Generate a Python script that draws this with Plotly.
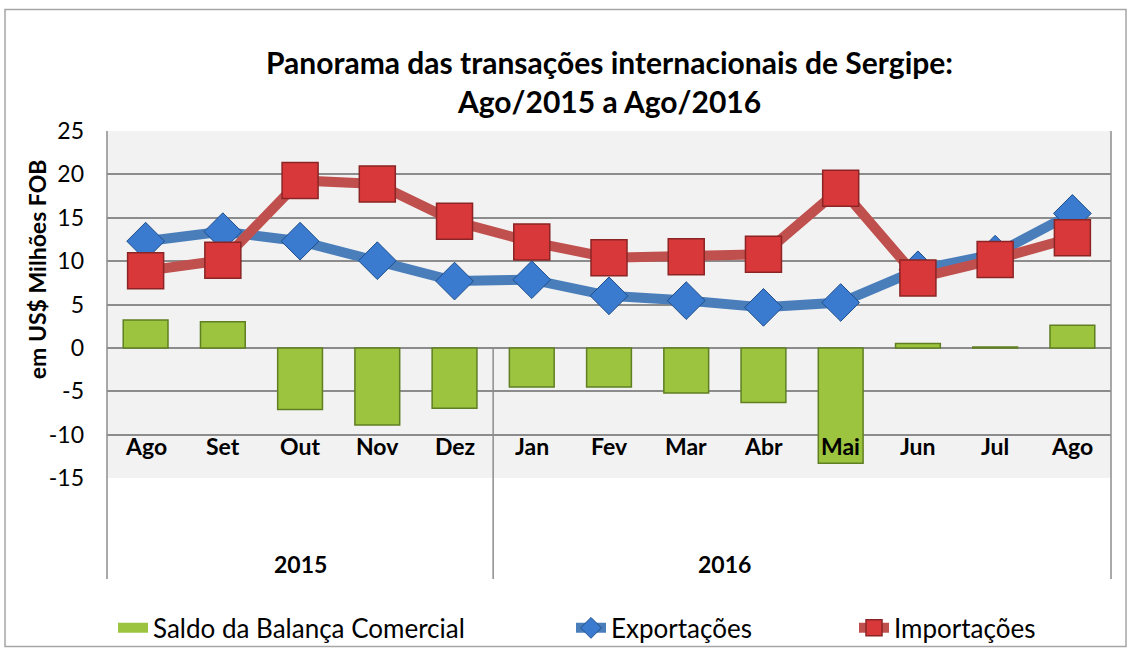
import plotly.graph_objects as go

months = ["Ago", "Set", "Out", "Nov", "Dez", "Jan", "Fev", "Mar", "Abr", "Mai", "Jun", "Jul", "Ago"]
years = ["2015", "2016"]
saldo = [3.2, 3.0, -7.1, -8.9, -6.95, -4.5, -4.5, -5.2, -6.3, -13.3, 0.5, 0.1, 2.6]
exportacoes = [12.3, 13.4, 12.3, 10.05, 7.7, 7.86, 6.0, 5.45, 4.67, 5.23, 9.0, 10.8, 15.5]
importacoes = [8.9, 10.1, 19.3, 18.9, 14.6, 12.2, 10.4, 10.5, 10.8, 18.4, 8.05, 10.2, 12.7]
yticks = [-15, -10, -5, 0, 5, 10, 15, 20, 25]
ytick_text = ["-15", "-10", "-5", "0", "5", "10", "15", "20", "25"]

FONT = "Lato"
W, H = 1132, 663
L, R, T, B = 107, 21, 131, 178
pw = W - L - R
ph = H - T - B

def px_x(p):
    return (p - L) / pw

def px_y(p):
    return (H - B - p) / ph

xs = list(range(len(months)))
GREEN = "#9CC43F"
GREEN_EDGE = "#5F7F22"

fig = go.Figure()
fig.add_trace(go.Bar(
    x=xs, y=saldo, name="Saldo da Balança Comercial", width=0.58,
    marker=dict(color=GREEN, line=dict(color=GREEN_EDGE, width=1.5)),
    showlegend=False,
))
# legend proxy for the bar series (wide bar-like symbol)
fig.add_trace(go.Scatter(
    x=[None], y=[None], name="Saldo da Balança Comercial", mode="lines",
    line=dict(color=GREEN, width=16), legend="legend",
))
fig.add_trace(go.Scatter(
    x=xs, y=exportacoes, name="Exportações", mode="lines+markers",
    line=dict(color="#4A7EBB", width=10),
    marker=dict(symbol="diamond", size=29, color="#3A7BD0", line=dict(color="#1F4E8A", width=1)),
    legend="legend2",
))
fig.add_trace(go.Scatter(
    x=xs, y=importacoes, name="Importações", mode="lines+markers",
    line=dict(color="#C0504D", width=10),
    marker=dict(symbol="square", size=36, color="#D8383A", line=dict(color="#8B2525", width=1.5)),
    legend="legend3",
))

annotations = []
for i, m in enumerate(months):
    annotations.append(dict(x=i, y=-11.3, xref="x", yref="y", text="<b>%s</b>" % m,
                            showarrow=False, yanchor="middle",
                            font=dict(family=FONT, size=23, color="black")))
annotations.append(dict(x=2, y=px_y(573), xref="x", yref="paper", text="<b>%s</b>" % years[0],
                        showarrow=False, yanchor="middle", font=dict(family=FONT, size=23, color="black")))
annotations.append(dict(x=7.5, y=px_y(573), xref="x", yref="paper", text="<b>%s</b>" % years[1],
                        showarrow=False, yanchor="middle", font=dict(family=FONT, size=23, color="black")))
annotations.append(dict(x=0.5, y=px_y(80), xref="paper", yref="paper",
                        text="<b>Panorama das transações internacionais de Sergipe:<br>Ago/2015 a Ago/2016</b>",
                        showarrow=False, font=dict(family=FONT, size=30, color="black"),
                        xanchor="center", yanchor="middle"))
annotations.append(dict(x=px_x(37), y=px_y(272), xref="paper", yref="paper",
                        text="<b>em US$ Milhões FOB</b>", textangle=-90,
                        showarrow=False, font=dict(family=FONT, size=23, color="black"),
                        xanchor="center", yanchor="middle"))

gray = "#8C8C8C"
shapes = [
    dict(type="rect", xref="paper", yref="paper", x0=px_x(5), x1=px_x(1126), y0=px_y(657), y1=px_y(7),
         line=dict(color="#A6A6A6", width=1.5), layer="below"),
    dict(type="line", xref="paper", yref="paper", x0=0, x1=0, y0=1, y1=px_y(588), line=dict(color=gray, width=1.5)),
    dict(type="line", xref="paper", yref="paper", x0=1, x1=1, y0=1, y1=px_y(588), line=dict(color=gray, width=1.5)),
    dict(type="line", xref="x", yref="y", x0=4.5, x1=4.5, y0=0, y1=-15, line=dict(color=gray, width=1.5), layer="below"),
    dict(type="line", xref="x", yref="paper", x0=4.5, x1=4.5, y0=0, y1=px_y(588), line=dict(color=gray, width=1.5)),
]

legend_font = dict(family=FONT, size=26, color="black")
fig.update_layout(
    width=W, height=H,
    margin=dict(l=L, r=R, t=T, b=B),
    paper_bgcolor="white",
    plot_bgcolor="#F2F2F2",
    font=dict(family=FONT, size=20, color="black"),
    showlegend=True,
    annotations=annotations,
    shapes=shapes,
    legend=dict(x=px_x(113), y=px_y(638), xanchor="left", yanchor="middle", orientation="h",
                font=legend_font, bgcolor="rgba(0,0,0,0)"),
    legend2=dict(x=px_x(571), y=px_y(638), xanchor="left", yanchor="middle", orientation="h",
                 font=legend_font, bgcolor="rgba(0,0,0,0)"),
    legend3=dict(x=px_x(854), y=px_y(638), xanchor="left", yanchor="middle", orientation="h",
                 font=legend_font, bgcolor="rgba(0,0,0,0)"),
)
fig.update_xaxes(range=[-0.5, len(months) - 0.5], showticklabels=False, showgrid=False,
                 zeroline=False, showline=False, ticks="")
fig.update_yaxes(range=[-15, 25], tickvals=yticks, ticktext=ytick_text, showgrid=True,
                 gridcolor=gray, gridwidth=1.5,
                 zeroline=True, zerolinecolor=gray, zerolinewidth=1.5, showline=False,
                 ticks="", ticklabelstandoff=22, tickfont=dict(family=FONT, size=23, color="black"))

fig.write_html("out.html", config={"displayModeBar": False},
               post_script="document.body.style.margin='0';document.body.style.overflow='hidden';")
